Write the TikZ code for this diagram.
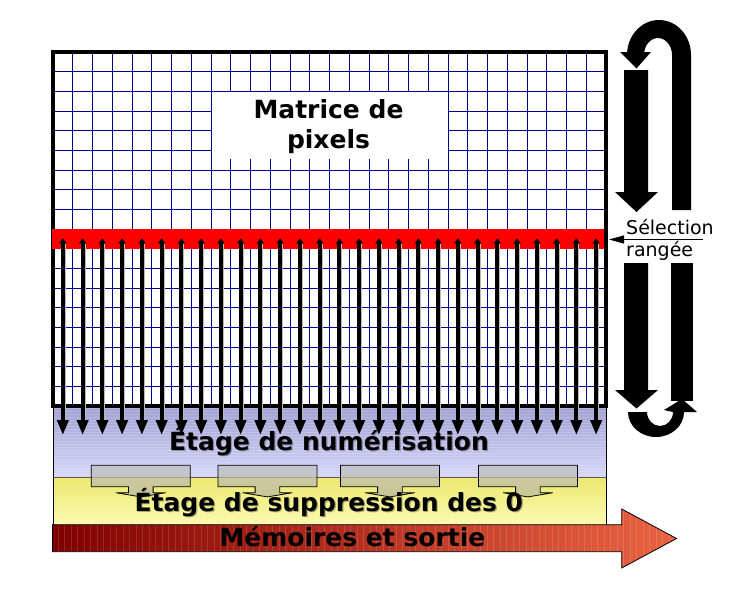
\documentclass[tikz,border=0pt]{standalone}
\usepackage{fontspec}
\setmainfont{DejaVu Sans}
\usetikzlibrary{arrows.meta}
\definecolor{gridblue}{RGB}{0,0,140}
\definecolor{blueTop}{RGB}{160,160,210}
\definecolor{blueBot}{RGB}{215,215,250}
\definecolor{yelTop}{RGB}{238,232,110}
\definecolor{yelBot}{RGB}{250,250,178}
\definecolor{redL}{RGB}{128,0,0}
\definecolor{redR}{RGB}{234,100,66}
\definecolor{tabTop}{RGB}{192,192,196}
\definecolor{tabBot}{RGB}{186,186,150}
\begin{document}
\begin{tikzpicture}[x=1pt,y=-1pt,
  gridline/.style={draw=gridblue, line width=0.9pt},
  biglabel/.style={font=\bfseries\fontsize{25}{30}\selectfont, inner sep=0pt},
  shadowlabel/.style={biglabel, text=black, opacity=0.3},
  sellabel/.style={font=\fontsize{19}{22}\selectfont, inner sep=0pt},
  colarrow/.style={line width=4pt, arrows={Triangle[width=7pt,length=5pt]-Triangle[width=11pt,length=15pt]}},
  colshade/.style={draw=gray!55, line width=3pt},
  tabshape/.style={top color=tabTop, bottom color=tabBot, fill opacity=0.75, draw=black, line width=0.8pt},
  bigarrow/.style={fill=black}
]
\useasboundingbox (0,0) rectangle (739,597);

% ---- lower stages ----
\fill[top color=blueTop, bottom color=blueBot] (53,406) rectangle (606,477.3);
\foreach \yy in {408,411,...,476} \draw[white, opacity=0.18, line width=1pt] (53,\yy) -- (606,\yy);
\fill[top color=yelTop, bottom color=yelBot] (53,477.3) rectangle (606,524.7);
\draw[line width=0.8pt] (53,406) -- (53,524.7) (606,406) -- (606,524.7);
\draw[gray!70!black, line width=0.8pt] (53,477.3) -- (606,477.3);

% output arrow
\shade[left color=redL, right color=redR]
  (52.5,524.7) -- (621.7,524.7) -- (621.7,509) -- (676.5,538.5) -- (621.7,568) -- (621.7,551.7) -- (52.5,551.7) -- cycle;
\begin{scope}
  \clip (52.5,524.7) -- (621.7,524.7) -- (621.7,509) -- (676.5,538.5) -- (621.7,568) -- (621.7,551.7) -- (52.5,551.7) -- cycle;
  \foreach \xx in {58,64.5,...,676} \draw[white, opacity=0.13, line width=1pt] (\xx,505) -- (\xx,570);
\end{scope}
\draw[line width=0.8pt] (52.5,524.7) -- (621.7,524.7) -- (621.7,509) -- (676.5,538.5) -- (621.7,568) -- (621.7,551.7) -- (52.5,551.7) -- cycle;

% ---- pixel matrix ----
\fill[white] (53,52) rectangle (606,406);
\foreach \i in {1,...,27} \draw[gridline] ({53+\i*19.75},52) -- ({53+\i*19.75},406);
\foreach \j in {1,...,17} \draw[gridline] (53,{52+\j*19.667}) -- (606,{52+\j*19.667});
\node[fill=white, inner sep=0pt, minimum width=236.5pt, minimum height=67.5pt, anchor=north west] (matbox) at (211.5,91.5) {};
\draw[line width=4pt] (53,52) rectangle (606,406);
\node[fill=red, inner sep=0pt, minimum width=552.5pt, minimum height=19.67pt, anchor=north west] (redband) at (51.5,229) {};

% column arrows
\foreach \k in {0,...,27} {
  \pgfmathsetmacro\xx{53+(\k+0.5)*19.75}
  \coordinate (t\k) at (\xx,238.3);
  \coordinate (b\k) at (\xx,435);
  \draw[colshade] ({\xx+1.6},244) -- ({\xx+1.6},421);
  \draw[colarrow] (t\k) -- (b\k);
}

% transfer tabs
\foreach \cx in {140.8,267.4,389.9,527.9} {
  \path[tabshape] ({\cx-49.5},465.3) -- ({\cx+49.5},465.3) -- ({\cx+49.5},486.7) -- ({\cx+12.3},486.7)
    -- ({\cx+12.3},492.7) -- ({\cx+24.9},492.7) -- (\cx,496.9) -- ({\cx-24.9},492.7)
    -- ({\cx-12.3},492.7) -- ({\cx-12.3},486.7) -- ({\cx-49.5},486.7) -- cycle;
}

% ---- texts ----
\node[biglabel, anchor=base] (mat1) at (328.5,118.3) {Matrice de};
\node[biglabel, anchor=base] (mat2) at (328.5,148.3) {pixels};
\node[shadowlabel, anchor=base] (num0) at (330.2,451.2) {Étage de numérisation};
\node[biglabel, anchor=base] (num) at (329,450) {Étage de numérisation};
\node[shadowlabel, anchor=base] (sup0) at (330,512.9) {Étage de suppression des 0};
\node[biglabel, anchor=base] (sup) at (328.8,511.7) {Étage de suppression des 0};
\node[biglabel, anchor=base] (mem) at (352.5,546.7) {Mémoires et sortie};

% ---- row selection ----
\node[sellabel, anchor=base west] (sel1) at (626,234.5) {Sélection};
\node[sellabel, anchor=base west] (sel2) at (626,256.5) {rangée};
\coordinate (selstart) at (703,239.5);
\coordinate (seltip) at (609,239.5);
\draw[line width=1.3pt, arrows={-Triangle[width=8pt,length=15pt]}] (selstart) -- (seltip);

% ---- scanning arrows (right) ----
\fill[bigarrow] (672,210) -- (672,55) arc[start angle=0, end angle=-180, x radius=14, y radius=17]
  -- (644,52) -- (651,52) -- (636.5,68.5) -- (620,52) -- (627,52) -- (627,55)
  arc[start angle=180, end angle=360, x radius=32, y radius=35] -- (691,210) -- cycle;
\fill[bigarrow] (624,70) -- (648,70) -- (648,192) -- (658,192) -- (636.5,212) -- (615,192) -- (624,192) -- cycle;
\fill[bigarrow] (624,263) -- (648,263) -- (648,390) -- (658,390) -- (636.5,408.5) -- (615,390) -- (624,390) -- cycle;
\fill[bigarrow] (671,263) rectangle (693,401);
\fill[bigarrow] (628,412) arc[start angle=180, end angle=0, x radius=28, y radius=25]
  -- (697,412) -- (682,399) -- (664,410) -- (673,412)
  arc[start angle=0, end angle=180, x radius=13, y radius=14] -- cycle;
\end{tikzpicture}
\end{document}
